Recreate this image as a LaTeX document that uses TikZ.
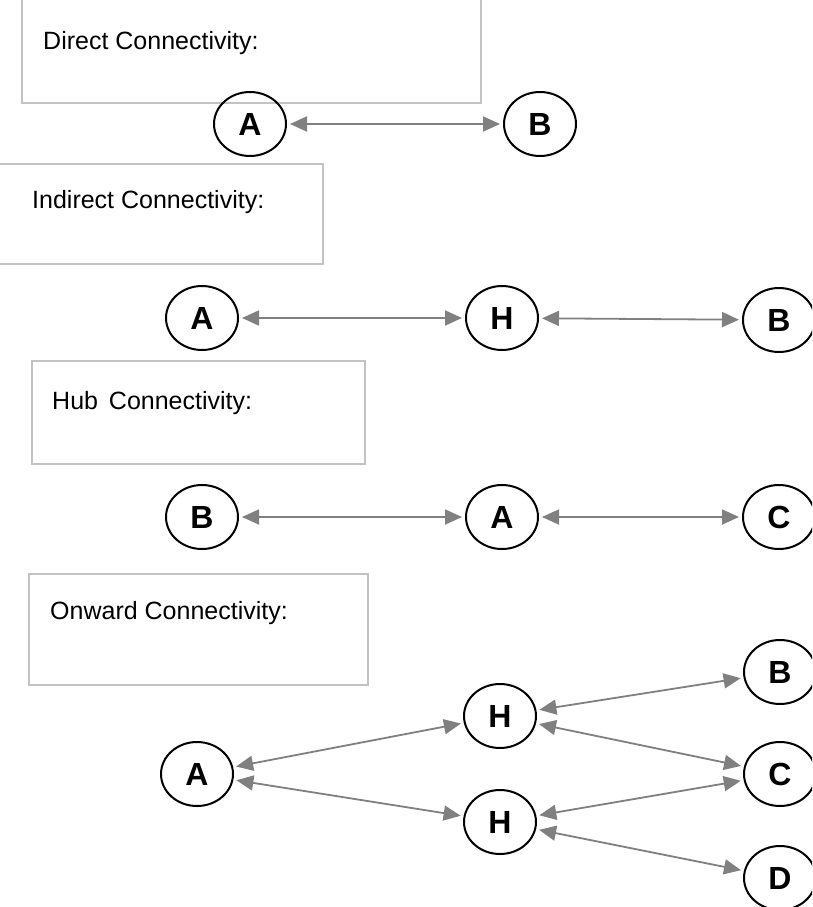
\documentclass[tikz,border=0pt]{standalone}
\usepackage{fontspec}
\setmainfont{Liberation Sans}
\usetikzlibrary{arrows.meta,shapes.geometric}
\definecolor{boxgray}{RGB}{195,195,195}
\definecolor{arrgray}{RGB}{128,128,128}
\tikzset{
  panel/.style={draw=boxgray,line width=1.2pt},
  paneltext/.style={anchor=base west,inner sep=0pt,font=\fontsize{25}{30}\selectfont},
  site/.style={draw=black,ellipse,line width=2pt,minimum width=72pt,minimum height=64pt,inner sep=0pt,font=\fontsize{32}{38}\selectfont\bfseries},
  link/.style={draw=arrgray,line width=1.8pt,{Triangle[length=17pt,width=15pt]}-{Triangle[length=17pt,width=15pt]},shorten <=3pt,shorten >=3pt}
}
\begin{document}
\begin{tikzpicture}[x=1pt,y=-1pt]
\useasboundingbox (0,0) rectangle (812,907);
\clip (0,0) rectangle (812,907);
\fill[white] (0,0) rectangle (812,907);
% panels
\draw[panel] (22,-10) rectangle (481,103);
\node[paneltext] (t1) at (43,49) {Direct Connectivity:};
\draw[panel] (-10,164) rectangle (323,264);
\node[paneltext] (t2) at (32,208) {Indirect Connectivity:};
\draw[panel] (32,361) rectangle (365,464);
\node[paneltext] (t3) at (52,409) {Hub\hspace{4pt} Connectivity:};
\draw[panel] (29,574) rectangle (368,685);
\node[paneltext] (t4) at (50,619) {Onward Connectivity:};
% row 1
\node[site] (a1) at (250,124) {A};
\node[site] (b1) at (540,124) {B};
\draw[link] (a1) -- (b1);
% row 2
\node[site] (a2) at (202,318) {A};
\node[site] (h2) at (502,318) {H};
\node[site] (b2) at (779,320) {B};
\draw[link] (a2) -- (h2);
\draw[link] (h2) -- (b2);
% row 3
\node[site] (b3) at (202,517) {B};
\node[site] (a3) at (502,517) {A};
\node[site] (c3) at (779,517) {C};
\draw[link] (b3) -- (a3);
\draw[link] (a3) -- (c3);
% row 4
\node[site] (a4) at (197,774) {A};
\node[site] (h4a) at (500,716) {H};
\node[site] (h4b) at (500,822) {H};
\node[site] (b4) at (780,672) {B};
\node[site] (c4) at (780,774) {C};
\node[site] (d4) at (780,878) {D};
\draw[link] (a4) -- (h4a);
\draw[link] (a4) -- (h4b);
\draw[link] (h4a) -- (b4);
\draw[link] (h4a) -- (c4);
\draw[link] (h4b) -- (c4);
\draw[link] (h4b) -- (d4);
\end{tikzpicture}
\end{document}
